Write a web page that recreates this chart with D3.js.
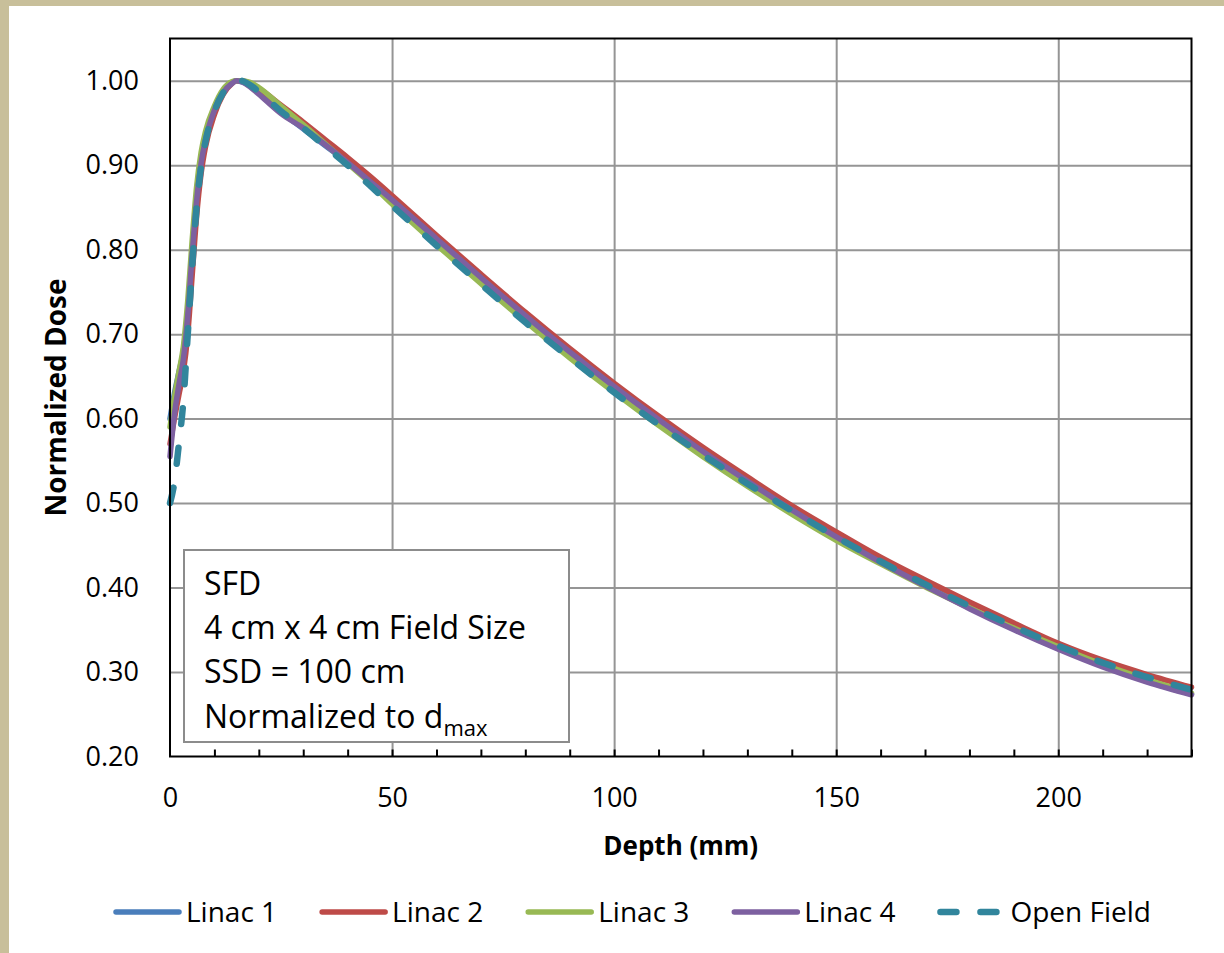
<!DOCTYPE html>
<html>
<head>
<meta charset="utf-8">
<script src="https://cdn.jsdelivr.net/npm/d3@7"></script>
<style>
  html, body { margin: 0; padding: 0; background: #ffffff; }
  svg { display: block; }
  text { font-family: "Open Sans", "DejaVu Sans", sans-serif; fill: #000; }
</style>
</head>
<body>
<svg id="chart" width="1224" height="953"></svg>
<script>
// Depth positions (mm) shared by every series
const depths = [0, 1, 2, 3, 4, 5, 6, 7, 8, 10, 12, 14, 15, 16, 18, 20, 25, 30, 35, 40, 45,
  50, 60, 70, 80, 90, 100, 110, 120, 130, 140, 150, 160, 170, 180, 190, 200, 210, 220, 230];

// Normalized dose per series
const linac1 = [0.600, 0.630, 0.655, 0.680, 0.728, 0.798, 0.862, 0.905, 0.932, 0.966, 0.987, 0.998, 1.000, 0.999, 0.994, 0.987, 0.963, 0.943, 0.923, 0.903, 0.881,
  0.858, 0.812, 0.766, 0.721, 0.678, 0.637, 0.598, 0.561, 0.526, 0.493, 0.461, 0.431, 0.403, 0.376, 0.351, 0.328, 0.308, 0.289, 0.274];
const linac2 = [0.570, 0.600, 0.628, 0.655, 0.700, 0.770, 0.840, 0.890, 0.922, 0.960, 0.984, 0.997, 1.000, 1.000, 0.997, 0.991, 0.971, 0.951, 0.930, 0.909, 0.887,
  0.864, 0.817, 0.771, 0.726, 0.683, 0.642, 0.603, 0.566, 0.531, 0.497, 0.466, 0.436, 0.409, 0.383, 0.358, 0.334, 0.314, 0.297, 0.282];
const linac3 = [0.590, 0.625, 0.655, 0.685, 0.740, 0.812, 0.875, 0.915, 0.940, 0.970, 0.990, 0.999, 1.000, 1.000, 0.998, 0.992, 0.970, 0.948, 0.925, 0.902, 0.879,
  0.854, 0.806, 0.760, 0.715, 0.672, 0.631, 0.592, 0.555, 0.520, 0.487, 0.456, 0.428, 0.401, 0.376, 0.352, 0.330, 0.309, 0.291, 0.275];
const linac4 = [0.555, 0.605, 0.640, 0.670, 0.722, 0.795, 0.858, 0.902, 0.930, 0.965, 0.986, 0.997, 1.000, 0.999, 0.993, 0.984, 0.961, 0.944, 0.924, 0.903, 0.881,
  0.859, 0.813, 0.767, 0.722, 0.679, 0.638, 0.599, 0.561, 0.526, 0.492, 0.460, 0.430, 0.402, 0.375, 0.350, 0.327, 0.306, 0.288, 0.273];
const openField = [0.500, 0.525, 0.570, 0.620, 0.700, 0.780, 0.850, 0.898, 0.928, 0.964, 0.986, 0.998, 1.000, 1.000, 0.995, 0.987, 0.964, 0.944, 0.922, 0.900, 0.876,
  0.852, 0.805, 0.759, 0.714, 0.672, 0.631, 0.593, 0.557, 0.523, 0.491, 0.460, 0.431, 0.404, 0.378, 0.354, 0.331, 0.311, 0.294, 0.279];

const seriesNames = ["Linac 1", "Linac 2", "Linac 3", "Linac 4", "Open Field"];
const seriesValues = [linac1, linac2, linac3, linac4, openField];
const seriesColors = ["#4a7ebb", "#be4b48", "#98b954", "#7d60a0", "#31859c"];
const seriesDashed = [false, false, false, false, true];

const xTicks = [0, 50, 100, 150, 200];
const xMinorTicks = d3.range(10, 231, 10);
const yTicks = [0.2, 0.3, 0.4, 0.5, 0.6, 0.7, 0.8, 0.9, 1.0];

const noteLines = ["SFD", "4 cm x 4 cm Field Size", "SSD = 100 cm", "Normalized to d"];

const svg = d3.select("#chart");
const W = 1224, H = 953;

// Outer frame: tan edge on top and left
svg.append("rect").attr("width", W).attr("height", H).attr("fill", "#c8bf9a");
svg.append("rect").attr("x", 9).attr("y", 6).attr("width", W - 9).attr("height", H - 6).attr("fill", "#ffffff");

const plot = { left: 170, right: 1191.5, top: 38.5, bottom: 756.5 };

const x = d3.scaleLinear().domain([0, 230]).range([plot.left, plot.right]);
const y = d3.scaleLinear().domain([0.2, 1.05]).range([plot.bottom, plot.top]);

// Gridlines
svg.append("g")
  .attr("transform", `translate(0,${plot.bottom})`)
  .call(d3.axisBottom(x).tickValues(xTicks.slice(1)).tickSize(-(plot.bottom - plot.top)).tickFormat(""))
  .call(g => g.select(".domain").remove())
  .call(g => g.selectAll("line").attr("stroke", "#959595").attr("stroke-width", 2));

svg.append("g")
  .attr("transform", `translate(${plot.left},0)`)
  .call(d3.axisLeft(y).tickValues(yTicks.slice(1)).tickSize(-(plot.right - plot.left)).tickFormat(""))
  .call(g => g.select(".domain").remove())
  .call(g => g.selectAll("line").attr("stroke", "#959595").attr("stroke-width", 2));

// Minor ticks on the depth axis, pointing into the plot
svg.append("g")
  .attr("transform", `translate(0,${plot.bottom})`)
  .call(d3.axisBottom(x).tickValues(xMinorTicks).tickSize(-7).tickFormat(""))
  .call(g => g.select(".domain").remove())
  .call(g => g.selectAll("line").attr("stroke", "#000").attr("stroke-width", 2));

// Curves
const line = d3.line()
  .x((d, i) => x(depths[i]))
  .y(d => y(d))
  .curve(d3.curveMonotoneX);

seriesValues.forEach((vals, k) => {
  svg.append("path")
    .datum(vals)
    .attr("d", line)
    .attr("fill", "none")
    .attr("stroke", seriesColors[k])
    .attr("stroke-width", seriesDashed[k] ? 6.5 : 5.5)
    .attr("stroke-linecap", "round")
    .attr("stroke-linejoin", "round")
    .attr("stroke-dasharray", seriesDashed[k] ? "16,24" : null);
});

// Plot frame
svg.append("rect")
  .attr("x", plot.left).attr("y", plot.top)
  .attr("width", plot.right - plot.left).attr("height", plot.bottom - plot.top)
  .attr("fill", "none").attr("stroke", "#000").attr("stroke-width", 2);

// Axis labels
svg.append("g")
  .attr("transform", `translate(${plot.left},0)`)
  .call(d3.axisLeft(y).tickValues(yTicks).tickSize(0).tickPadding(31).tickFormat(d3.format(".2f")))
  .call(g => g.select(".domain").remove())
  .call(g => g.selectAll("text").style("font-size", "27px").style("font-family", "'Open Sans', sans-serif"));

svg.append("g")
  .attr("transform", `translate(0,${plot.bottom})`)
  .call(d3.axisBottom(x).tickValues(xTicks).tickSize(0).tickPadding(31))
  .call(g => g.select(".domain").remove())
  .call(g => g.selectAll("text").style("font-size", "27px").style("font-family", "'Open Sans', sans-serif"));

// Axis titles
svg.append("text")
  .attr("x", (plot.left + plot.right) / 2).attr("y", 855)
  .attr("text-anchor", "middle")
  .style("font-size", "26px").style("font-weight", "bold")
  .text("Depth (mm)");

svg.append("text")
  .attr("transform", `translate(66,${(plot.top + plot.bottom) / 2}) rotate(-90)`)
  .attr("text-anchor", "middle")
  .style("font-size", "28px").style("font-weight", "bold")
  .text("Normalized Dose");

// Annotation box
const note = svg.append("g");
note.append("rect")
  .attr("x", 184).attr("y", 550).attr("width", 385).attr("height", 192)
  .attr("fill", "#fff").attr("stroke", "#8c8c8c").attr("stroke-width", 2);
const noteBase = [595, 639, 683, 728];
noteLines.forEach((t, i) => {
  const tx = note.append("text")
    .attr("x", 204).attr("y", noteBase[i])
    .style("font-size", "32px")
    .text(t);
  if (i === noteLines.length - 1) {
    tx.append("tspan").attr("dy", 8).style("font-size", "22px").text("max");
  }
});

// Legend
const legend = svg.append("g");
let cx = 113;
const legendY = 912;
seriesNames.forEach((name, k) => {
  legend.append("line")
    .attr("x1", cx + 3).attr("x2", cx + 66)
    .attr("y1", legendY).attr("y2", legendY)
    .attr("stroke", seriesColors[k])
    .attr("stroke-width", seriesDashed[k] ? 6.5 : 5.5)
    .attr("stroke-linecap", "round")
    .attr("stroke-dasharray", seriesDashed[k] ? "16,24" : null);
  const t = legend.append("text")
    .attr("x", cx + 73).attr("y", legendY)
    .attr("dy", "0.35em")
    .style("font-size", "28px")
    .text(name);
  cx = cx + 73 + t.node().getComputedTextLength() + 42;
});
</script>
</body>
</html>
